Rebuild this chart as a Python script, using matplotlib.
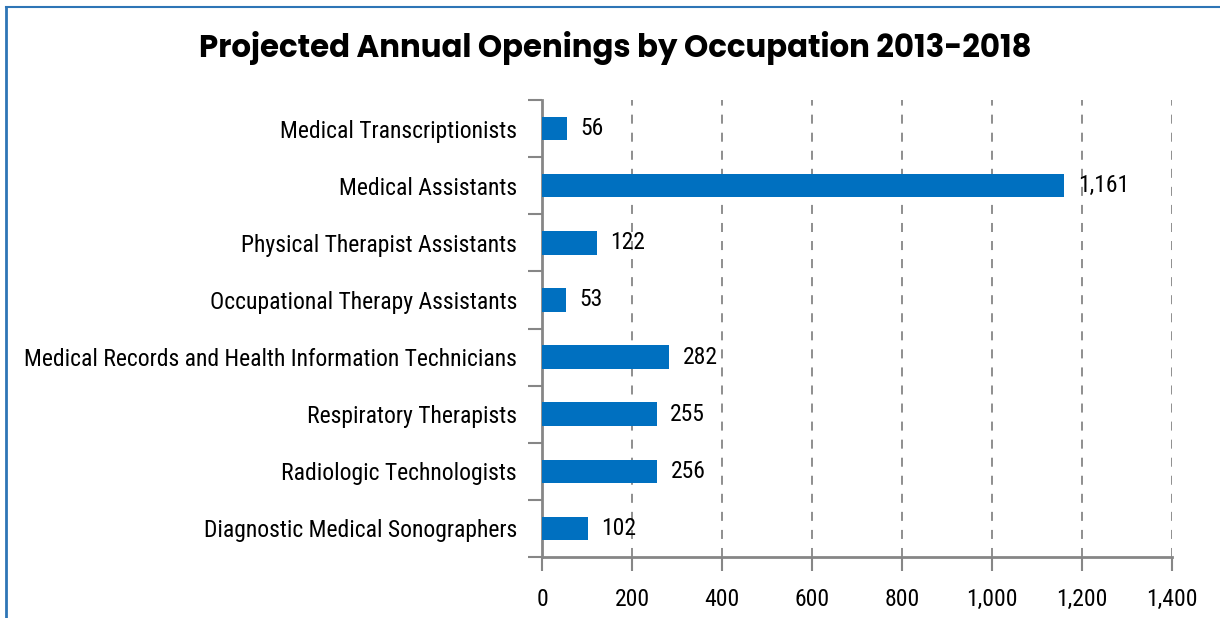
import matplotlib
matplotlib.use("Agg")
import matplotlib.pyplot as plt
from matplotlib.lines import Line2D
from matplotlib import font_manager as fm
import numpy as np

categories = ["Medical Transcriptionists", "Medical Assistants", "Physical Therapist Assistants",
              "Occupational Therapy Assistants", "Medical Records and Health Information Technicians",
              "Respiratory Therapists", "Radiologic Technologists", "Diagnostic Medical Sonographers"]
values = [56, 1161, 122, 53, 282, 255, 256, 102]
xticks = [0, 200, 400, 600, 800, 1000, 1200, 1400]
xtick_labels = ["0", "200", "400", "600", "800", "1,000", "1,200", "1,400"]
title = "Projected Annual Openings by Occupation 2013-2018"

fonts = fm.fontManager.ttflist
names = {f.name for f in fonts}
bold_names = {f.name for f in fonts if (isinstance(f.weight, int) and f.weight >= 700) or f.weight == "bold"}

def pick(cands, pool, default="DejaVu Sans"):
    for c in cands:
        if c in pool:
            return c
    return default

narrow = pick(["Tw Cen MT Condensed", "Futura Condensed", "Roboto Condensed", "Asap Condensed",
               "Archivo Narrow", "Pathway Gothic One"], names)
titlefont = pick(["Futura", "League Spartan", "Jost", "Kumbh Sans", "Outfit", "Poppins", "Lato"], bold_names)

fig = plt.figure(figsize=(12.2, 6.18), dpi=100)
renderer = fig.canvas.get_renderer()

def fit_size(text, family, target_px, weight="normal", base=20):
    t = fig.text(0, 0, text, fontfamily=family, fontsize=base, fontweight=weight)
    w = t.get_window_extent(renderer).width
    t.remove()
    return base * target_px / w

lab_size = fit_size(categories[4], narrow, 493)
title_size = fit_size(title, titlefont, 835, weight="bold")

ax = fig.add_axes([542/1220, 1-557/618, (1172-542)/1220, (557-100)/618])

n = len(categories)
y = np.arange(n)
ax.barh(y, values, height=0.41, color="#0070C0", zorder=3)
ax.set_ylim(n - 0.5, -0.5)
ax.set_xlim(0, 1400)
ax.set_xticks(xticks)
ax.set_xticklabels(xtick_labels, fontfamily=narrow, fontsize=lab_size)
ax.set_yticks(y)
ax.set_yticklabels(categories, fontfamily=narrow, fontsize=lab_size)
ax.set_yticks(np.arange(n + 1) - 0.5, minor=True)
ax.tick_params(axis="y", which="major", length=0, pad=18)
ax.tick_params(axis="y", which="minor", length=10, width=1.5, color="#868686")
ax.tick_params(axis="x", which="major", length=10, width=1.5, color="#868686", pad=12)

for v, yy in zip(values, y):
    ax.text(v + 30, yy, f"{v:,}", va="center", ha="left", fontfamily=narrow, fontsize=lab_size, zorder=4)

ax.grid(axis="x", linestyle=(0, (5, 5)), color="#868686", linewidth=1.3, zorder=0)
for s in ["top", "right"]:
    ax.spines[s].set_visible(False)
for s in ["left", "bottom"]:
    ax.spines[s].set_color("#868686")
    ax.spines[s].set_linewidth(2)

fig.text(615/1220, 1-48/618, title, ha="center", va="center", fontsize=title_size, fontweight="bold",
         fontfamily=titlefont)

fig.add_artist(Line2D([6/1220, 6/1220], [0, 1-7/618], color="#2E75B6", linewidth=2))
fig.add_artist(Line2D([6/1220, 1], [1-7/618, 1-7/618], color="#2E75B6", linewidth=1.5))

fig.savefig("out.png", dpi=100)
